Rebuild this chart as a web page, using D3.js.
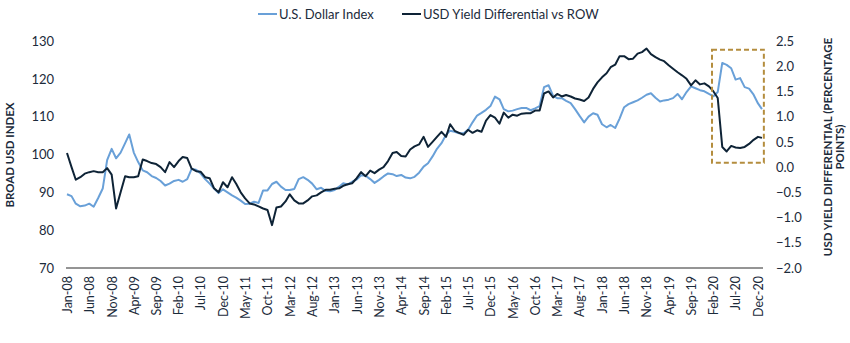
<!DOCTYPE html>
<html>
<head>
<meta charset="utf-8">
<script src="https://cdn.jsdelivr.net/npm/d3@7"></script>
<style>
  html, body { margin: 0; padding: 0; background: #fff; }
  svg { display: block; font-family: Lato, "Open Sans", sans-serif; }
</style>
</head>
<body>
<svg id="chart" width="850" height="343"></svg>
<script>
// ---- DATA (monthly, Jan 2008 .. Dec 2020, plus a final late-Dec 2020 reading) ----
const seriesNames = ["U.S. Dollar Index", "USD Yield Differential vs ROW"];
const startMonth = "2008-01-01";
const lastDate = "2020-12-28";

const usdIndex = [
  89.5, 89.0, 87.0, 86.3, 86.5, 87.0, 86.2, 88.5, 91.0, 98.5, 101.5, 99.0,
  100.5, 103.0, 105.3, 100.5, 98.0, 95.8, 95.3, 94.3, 93.8, 93.0, 91.8, 92.3,
  93.0, 93.3, 92.8, 93.5, 96.2, 96.0, 95.0, 93.5, 92.3, 91.0, 89.8, 90.8,
  90.0, 89.2, 88.6, 87.8, 86.9, 87.0, 87.5, 87.2, 90.5, 90.5, 92.2, 92.8,
  91.5, 90.6, 90.6, 90.9, 93.5, 94.0, 93.3, 92.3, 90.8, 91.2, 90.4, 90.3,
  90.6, 91.5, 92.4, 92.1, 92.8, 93.4, 94.5, 94.4, 93.5, 92.5, 93.3, 94.2,
  95.0, 94.8, 94.3, 94.6, 93.9, 93.7, 94.1, 95.2, 96.8, 97.7, 99.5, 101.5,
  103.0, 105.2, 106.3, 106.0, 105.6, 105.6, 106.5, 108.5, 110.3, 111.0, 111.8, 112.8,
  115.3, 114.6, 112.0, 111.4, 111.6, 112.0, 112.3, 112.3, 111.7, 112.2, 112.8, 117.8,
  118.3, 115.5, 114.9, 114.9, 114.2, 113.6, 112.0, 110.2, 108.5, 110.0, 110.9, 110.5,
  108.0, 107.2, 107.8, 107.0, 109.5, 112.5, 113.3, 113.8, 114.3, 115.0, 115.8, 116.2,
  115.0, 114.0, 114.3, 114.5, 114.9, 116.0, 114.6, 116.5, 118.0, 117.5, 117.0, 116.7,
  116.0, 115.4, 116.5, 124.2, 123.7, 122.8, 119.8, 120.2, 117.8, 117.4, 115.8, 113.5,
  112.0
];

const yieldDiff = [
  0.28, 0.00, -0.25, -0.20, -0.13, -0.10, -0.08, -0.10, -0.10, -0.02, -0.15, -0.82,
  -0.50, -0.18, -0.20, -0.20, -0.18, 0.15, 0.12, 0.08, 0.06, 0.00, -0.10, 0.10,
  0.00, 0.12, 0.20, 0.18, -0.03, -0.08, -0.09, -0.20, -0.22, -0.42, -0.50, -0.30,
  -0.40, -0.20, -0.33, -0.50, -0.62, -0.72, -0.74, -0.78, -0.82, -0.85, -1.15, -0.80,
  -0.78, -0.68, -0.54, -0.66, -0.72, -0.72, -0.66, -0.58, -0.56, -0.50, -0.45, -0.45,
  -0.43, -0.42, -0.37, -0.34, -0.32, -0.22, -0.10, -0.18, -0.07, -0.12, -0.05, 0.00,
  0.12, 0.28, 0.30, 0.22, 0.21, 0.35, 0.41, 0.45, 0.60, 0.40, 0.50, 0.60,
  0.70, 0.60, 0.85, 0.72, 0.68, 0.64, 0.74, 0.68, 0.73, 0.70, 0.92, 1.03,
  0.98, 0.86, 1.08, 0.98, 1.04, 1.02, 1.06, 1.07, 1.07, 1.12, 1.12, 1.46,
  1.50, 1.38, 1.45, 1.40, 1.43, 1.40, 1.36, 1.34, 1.31, 1.38, 1.55, 1.68,
  1.78, 1.86, 1.98, 2.03, 2.20, 2.20, 2.14, 2.15, 2.25, 2.28, 2.35, 2.24,
  2.18, 2.13, 2.10, 2.02, 1.95, 1.88, 1.82, 1.75, 1.62, 1.72, 1.64, 1.66,
  1.60, 1.50, 1.37, 0.40, 0.31, 0.42, 0.39, 0.38, 0.40, 0.46, 0.54, 0.60,
  0.58
];

const xTickLabels = ["Jan-08","Jun-08","Nov-08","Apr-09","Sep-09","Feb-10","Jul-10","Dec-10",
  "May-11","Oct-11","Mar-12","Aug-12","Jan-13","Jun-13","Nov-13","Apr-14","Sep-14","Feb-15",
  "Jul-15","Dec-15","May-16","Oct-16","Mar-17","Aug-17","Jan-18","Jun-18","Nov-18","Apr-19",
  "Sep-19","Feb-20","Jul-20","Dec-20"];
const leftTicks = [70, 80, 90, 100, 110, 120, 130];
const rightTicks = [-2.0, -1.5, -1.0, -0.5, 0.0, 0.5, 1.0, 1.5, 2.0, 2.5];
const highlightRange = ["2020-01-22", "2021-01-10"]; // dashed box period
const highlightLeft = [97.8, 127.7];               // dashed box vertical extent (left-axis units)

// ---- BUILD ----
const svg = d3.select("#chart");
const parseISO = d3.timeParse("%Y-%m-%d");
const parseTick = d3.timeParse("%b-%y");
const start = parseISO(startMonth);
const dates = d3.timeMonth.range(start, d3.timeMonth.offset(start, 156));
dates.push(parseISO(lastDate));

const x = d3.scaleTime()
  .domain([parseTick("Jan-08"), parseTick("Dec-20")])
  .range([67, 758]);
const yL = d3.scaleLinear().domain([70, 130]).range([268, 41]);
const yR = d3.scaleLinear().domain([-2.0, 2.5]).range([268, 41]);

const textColor = "#1c2b3b";
const lightBlue = "#69a0d8";
const darkNavy = "#0e2336";

// x axis line
svg.append("line")
  .attr("x1", 66).attr("x2", 763)
  .attr("y1", yL(70)).attr("y2", yL(70))
  .attr("stroke", "#2b2b2b").attr("stroke-width", 1);

// x tick labels
const xAxis = d3.axisBottom(x)
  .tickValues(xTickLabels.map(parseTick))
  .tickFormat(d3.timeFormat("%b-%y"))
  .tickSize(0);
const gx = svg.append("g").attr("transform", `translate(0,${yL(70)})`).call(xAxis);
gx.select(".domain").remove();
gx.selectAll("text")
  .attr("transform", "rotate(-90)")
  .attr("x", -8).attr("y", 0).attr("dy", "0.35em")
  .style("text-anchor", "end")
  .attr("fill", textColor)
  .style("font-size", "12.5px")
  .style("font-family", "Lato, sans-serif");

// left axis
const gl = svg.append("g").attr("transform", "translate(54,0)")
  .call(d3.axisLeft(yL).tickValues(leftTicks).tickSize(0).tickFormat(d3.format("d")));
gl.select(".domain").remove();
gl.selectAll("text").attr("x", 0).attr("fill", textColor)
  .style("font-size", "13px").style("font-family", "Lato, sans-serif");

// right axis
const gr = svg.append("g").attr("transform", "translate(776,0)")
  .call(d3.axisRight(yR).tickValues(rightTicks).tickSize(0).tickFormat(d3.format(".1f")));
gr.select(".domain").remove();
gr.selectAll("text").attr("x", 0).attr("fill", textColor)
  .style("font-size", "13px").style("font-family", "Lato, sans-serif");

// axis titles
svg.append("text")
  .attr("transform", `translate(14,155) rotate(-90)`)
  .attr("text-anchor", "middle")
  .attr("fill", textColor)
  .style("font-weight", "bold").style("font-size", "11.5px")
  .text("BROAD USD INDEX");
const rt = svg.append("text")
  .attr("transform", `translate(832,147) rotate(-90)`)
  .attr("text-anchor", "middle")
  .attr("fill", textColor)
  .style("font-weight", "bold").style("font-size", "11.5px");
rt.append("tspan").attr("x", 0).attr("dy", 0).text("USD YIELD DIFFERENTIAL (PERCENTAGE");
rt.append("tspan").attr("x", 0).attr("dy", 12).text("POINTS)");

// lines
const usdData = dates.map((d, i) => ({ d, v: usdIndex[i] }));
const ydData = dates.map((d, i) => ({ d, v: yieldDiff[i] }));

svg.append("path").datum(usdData)
  .attr("fill", "none").attr("stroke", lightBlue).attr("stroke-width", 2)
  .attr("stroke-linejoin", "round")
  .attr("d", d3.line().x(p => x(p.d)).y(p => yL(p.v)));

svg.append("path").datum(ydData)
  .attr("fill", "none").attr("stroke", darkNavy).attr("stroke-width", 2)
  .attr("stroke-linejoin", "round")
  .attr("d", d3.line().x(p => x(p.d)).y(p => yR(p.v)));

// highlight dashed box
const hx0 = x(parseISO(highlightRange[0])), hx1 = x(parseISO(highlightRange[1]));
const hy0 = yL(highlightLeft[1]), hy1 = yL(highlightLeft[0]);
svg.append("rect")
  .attr("x", hx0).attr("y", hy0)
  .attr("width", hx1 - hx0).attr("height", hy1 - hy0)
  .attr("fill", "none").attr("stroke", "#b48d3e").attr("stroke-width", 2)
  .attr("stroke-dasharray", "5,3");

// legend
const legend = svg.append("g").attr("transform", "translate(0,14)");
const legendItems = [
  { name: seriesNames[0], color: lightBlue, x: 258 },
  { name: seriesNames[1], color: darkNavy, x: 402 }
];
legendItems.forEach(it => {
  legend.append("line").attr("x1", it.x).attr("x2", it.x + 19)
    .attr("y1", 0).attr("y2", 0).attr("stroke", it.color).attr("stroke-width", 2);
  legend.append("text").attr("x", it.x + 21).attr("y", 0).attr("dy", "0.35em")
    .attr("fill", textColor).style("font-size", "13px").text(it.name);
});
</script>
</body>
</html>
